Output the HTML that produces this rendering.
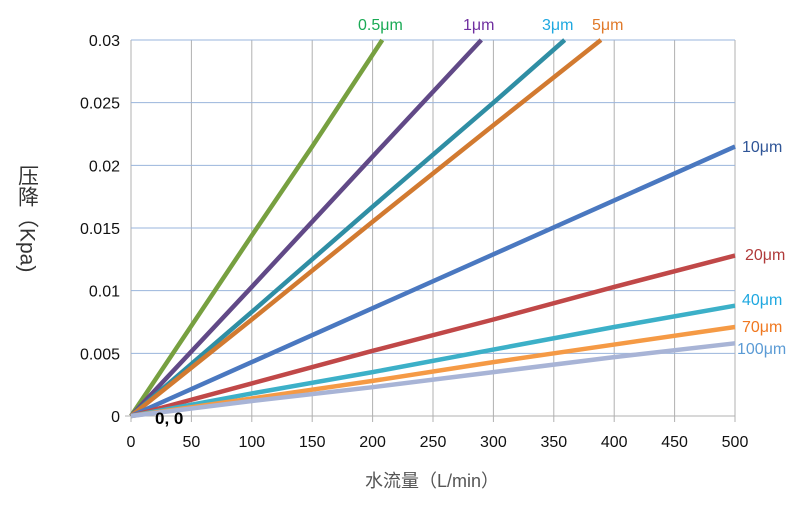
<!DOCTYPE html>
<html><head><meta charset="utf-8"><style>
body{margin:0;background:#fff;}
svg text{font-family:"Liberation Sans","Noto Sans CJK SC",sans-serif;}
</style></head><body>
<svg id="c" width="811" height="523" xmlns="http://www.w3.org/2000/svg">
<g id="grid"></g><g id="ticks"></g><g id="lines"></g><g id="labels"></g>
<text x="155" y="424" font-size="17" font-weight="bold" fill="#000">0, 0</text>
<text x="432" y="487" font-size="18" fill="#555" text-anchor="middle">水流量（L/min）</text>
<text x="0" y="0" font-size="21" fill="#333" transform="translate(27,165)" style="writing-mode:vertical-rl;font-family:'Liberation Sans','Noto Sans CJK SC',sans-serif">压降（Kpa)</text>
</svg>
<script>
const xTicks=[0,50,100,150,200,250,300,350,400,450,500];
const yTicks=[0,0.005,0.01,0.015,0.02,0.025,0.03];
const yTickLabels=["0","0.005","0.01","0.015","0.02","0.025","0.03"];
const seriesNames=["0.5μm","1μm","3μm","5μm","10μm","20μm","40μm","70μm","100μm"];
const s05=[[0,0],[50,0.0072],[100,0.0144],[150,0.0215],[208,0.03]];
const s1=[[0,0],[100,0.0103],[200,0.0207],[290,0.03]];
const s3=[[0,0],[100,0.0083],[200,0.0167],[300,0.025],[359,0.03]];
const s5=[[0,0],[100,0.0077],[200,0.0155],[300,0.0232],[389,0.03]];
const s10=[[0,0],[100,0.0043],[200,0.0086],[300,0.0129],[400,0.0172],[500,0.0215]];
const s20=[[0,0],[100,0.0026],[200,0.0052],[300,0.0077],[400,0.0103],[500,0.0128]];
const s40=[[0,0],[100,0.0018],[200,0.0035],[300,0.0053],[400,0.0071],[500,0.0088]];
const s70=[[0,0],[100,0.0014],[200,0.0028],[300,0.0043],[400,0.0057],[500,0.0071]];
const s100=[[0,0],[100,0.0012],[200,0.0023],[300,0.0035],[400,0.0047],[500,0.0058]];
const allSeries=[s05,s1,s3,s5,s10,s20,s40,s70,s100];
const lineColors=["#77a040","#614987","#2f8ea4","#d27a30","#4a78c0","#c04848","#3cb0c8","#f59a45","#a8b4d6"];
const labelColors=["#1aaa55","#7030a0","#1fa8e0","#e07a2a","#2f5597","#b03a3a","#1fa8e0","#f07820","#5b9bd5"];
const labelPos=[[358,30],[463,30],[542,30],[592,30],[742,152],[745,260],[742,305],[742,332],[737,354]];
const X=v=>131+v*(604/500), Y=v=>416-v*(376/0.03);
const NS="http://www.w3.org/2000/svg";
function mk(t,a,p){const e=document.createElementNS(NS,t);for(const k in a)e.setAttribute(k,a[k]);p.appendChild(e);return e;}
const g=document.getElementById('grid'),tk=document.getElementById('ticks'),ln=document.getElementById('lines'),lb=document.getElementById('labels');
xTicks.forEach(v=>{
 const l=mk('line',{x1:X(v),x2:X(v),y1:40,y2:422,stroke:"#b0b0b0","stroke-width":1},g);
 
 
 const t=mk('text',{x:X(v),y:447,"font-size":16,"text-anchor":"middle",fill:"#111"},tk);t.textContent=v;
 
 
});
yTicks.forEach((v,i)=>{
 const l=mk('line',{x1:i==0?125:131,x2:735,y1:Y(v),y2:Y(v),stroke:i==0?"#b0b0b0":"#9ab4dc","stroke-width":1},g);
 
 
 const t=mk('text',{x:120,y:Y(v)+6,"font-size":16,"text-anchor":"end",fill:"#111"},tk);t.textContent=yTickLabels[i];
 
 
});
allSeries.forEach((s,i)=>{
 const p=mk('polyline',{points:s.map(d=>X(d[0])+","+Y(d[1])).join(" "),fill:"none",stroke:lineColors[i],"stroke-width":4.5,"stroke-linejoin":"round"},ln);
 
 
 const t=mk('text',{x:labelPos[i][0],y:labelPos[i][1],"font-size":16,fill:labelColors[i]},lb);t.textContent=seriesNames[i];
 
 
});
</script>
</body></html>
